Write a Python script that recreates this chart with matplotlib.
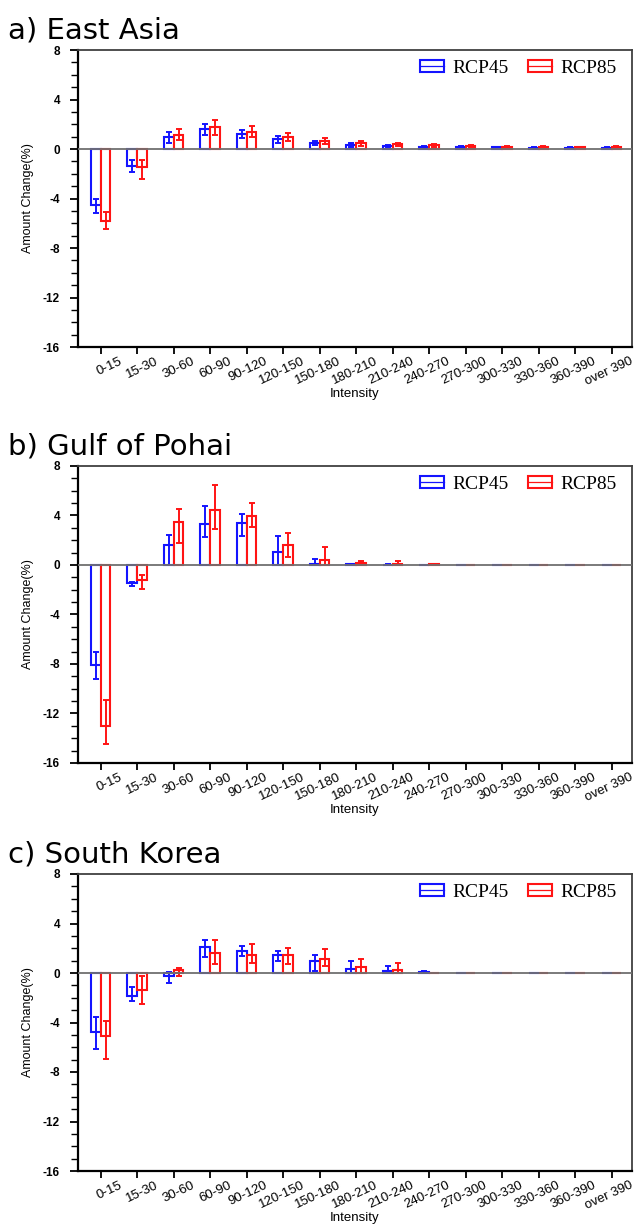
import numpy as np
import matplotlib
matplotlib.use("Agg")
import matplotlib.pyplot as plt
import matplotlib.transforms as mtrans
from matplotlib.patches import Patch
from matplotlib.lines import Line2D
from matplotlib.legend_handler import HandlerTuple

categories = ['0-15', '15-30', '30-60', '60-90', '90-120', '120-150', '150-180',
              '180-210', '210-240', '240-270', '270-300', '300-330', '330-360',
              '360-390', 'over 390']

# a) East Asia
ea45 = [-4.55, -1.35, 0.94, 1.59, 1.21, 0.81, 0.51, 0.33, 0.25, 0.19, 0.16, 0.13, 0.12, 0.10, 0.10]
ea45_lo = [-5.15, -1.89, 0.46, 1.13, 0.92, 0.51, 0.30, 0.19, 0.17, 0.12, 0.10, 0.08, 0.07, 0.06, 0.06]
ea45_hi = [-4.07, -0.89, 1.40, 2.00, 1.54, 1.05, 0.67, 0.46, 0.35, 0.26, 0.22, 0.18, 0.17, 0.14, 0.14]
ea85 = [-5.82, -1.48, 1.16, 1.75, 1.37, 0.94, 0.67, 0.46, 0.38, 0.30, 0.24, 0.19, 0.18, 0.13, 0.18]
ea85_lo = [-6.47, -2.43, 0.73, 1.13, 0.94, 0.62, 0.38, 0.24, 0.25, 0.18, 0.14, 0.11, 0.10, 0.07, 0.08]
ea85_hi = [-5.07, -0.89, 1.64, 2.35, 1.86, 1.32, 0.92, 0.65, 0.50, 0.40, 0.33, 0.27, 0.26, 0.19, 0.27]

# b) Gulf of Pohai
gp45 = [-8.09, -1.48, 1.59, 3.34, 3.40, 1.02, 0.10, 0.05, 0.02, 0.02, 0.01, 0.01, 0.01, 0.01, 0.01]
gp45_lo = [-9.25, -1.67, 0.00, 2.29, 2.37, 0.00, 0.00, 0.00, 0.00, 0.00, 0.00, 0.00, 0.00, 0.00, 0.00]
gp45_hi = [-7.06, -1.35, 2.43, 4.80, 4.10, 2.32, 0.50, 0.12, 0.05, 0.04, 0.02, 0.02, 0.02, 0.02, 0.02]
gp85 = [-13.02, -1.21, 3.50, 4.45, 3.99, 1.64, 0.38, 0.13, 0.12, 0.05, 0.01, 0.01, 0.01, 0.01, 0.01]
gp85_lo = [-14.50, -1.91, 1.80, 2.88, 3.10, 0.62, 0.00, 0.00, 0.00, 0.00, 0.00, 0.00, 0.00, 0.00, 0.00]
gp85_hi = [-10.90, -0.78, 4.53, 6.44, 4.99, 2.59, 1.48, 0.35, 0.35, 0.10, 0.02, 0.02, 0.02, 0.02, 0.02]

# c) South Korea
sk45 = [-4.77, -1.83, -0.27, 2.08, 1.81, 1.48, 1.00, 0.33, 0.19, 0.08, 0.01, 0.01, 0.01, 0.01, 0.01]
sk45_lo = [-6.15, -2.29, -0.81, 1.27, 1.35, 0.97, 0.19, 0.00, 0.00, 0.00, 0.00, 0.00, 0.00, 0.00, 0.00]
sk45_hi = [-3.56, -1.13, 0.05, 2.70, 2.21, 1.78, 1.48, 1.00, 0.54, 0.20, 0.02, 0.02, 0.02, 0.02, 0.02]
sk85 = [-5.07, -1.35, 0.22, 1.59, 1.43, 1.43, 1.13, 0.48, 0.27, 0.01, 0.01, 0.01, 0.01, 0.01, 0.01]
sk85_lo = [-6.95, -2.48, -0.22, 0.73, 0.81, 0.75, 0.59, 0.00, 0.00, 0.00, 0.00, 0.00, 0.00, 0.00, 0.00]
sk85_hi = [-3.91, -0.22, 0.43, 2.70, 2.37, 2.00, 1.94, 1.13, 0.81, 0.02, 0.02, 0.02, 0.02, 0.02, 0.02]

titles = ['a) East Asia', 'b) Gulf of Pohai', 'c) South Korea']
series_labels = ['RCP45', 'RCP85']
yticks = [8, 4, 0, -4, -8, -12, -16]

panels = [
    (ea45, ea45_lo, ea45_hi, ea85, ea85_lo, ea85_hi),
    (gp45, gp45_lo, gp45_hi, gp85, gp85_lo, gp85_hi),
    (sk45, sk45_lo, sk45_hi, sk85, sk85_lo, sk85_hi),
]

W, H = 644, 1226
fig = plt.figure(figsize=(W / 100, H / 100), dpi=100)

boxes = [(50, 347), (466, 763), (874, 1171)]
title_y = [38, 455, 862]
left_px, right_px = 78, 632
colors = ['#1414ff', '#ff1414']
bw = 0.27

for (top, bot), ty, title, data in zip(boxes, title_y, titles, panels):
    ax = fig.add_axes([left_px / W, 1 - bot / H, (right_px - left_px) / W, (bot - top) / H])
    x = np.arange(len(categories))
    v45, lo45, hi45, v85, lo85, hi85 = [np.array(d) for d in data]
    for off, v, lo, hi, c in [(-bw / 2, v45, lo45, hi45, colors[0]),
                              (bw / 2, v85, lo85, hi85, colors[1])]:
        ax.bar(x + off, v, width=bw, facecolor='white', edgecolor=c, linewidth=1.5, zorder=3)
        ax.errorbar(x + off, v, yerr=[v - lo, hi - v], fmt='none', ecolor=c,
                    elinewidth=1.4, capsize=2.2, capthick=1.4, zorder=4)
    ax.axhline(0, color='#707070', linewidth=1.3, zorder=5)
    ax.set_xlim(-0.62, 14.56)
    ax.set_ylim(-16, 8)
    ax.set_yticks(yticks)
    ax.set_yticks(np.arange(-16, 9, 1), minor=True)
    ax.set_yticklabels([str(t) for t in yticks], fontsize=8.5, family='Liberation Sans',
                       fontweight='bold')
    ax.set_xticks(x)
    ax.set_xticklabels(categories, rotation=25, ha='right', rotation_mode='anchor',
                       fontsize=9.5, family='Liberation Sans')
    ax.tick_params(axis='y', which='major', direction='out', length=6, width=1.3, pad=7)
    ax.tick_params(axis='y', which='minor', direction='out', length=5, width=1.0)
    ax.tick_params(axis='x', which='major', direction='out', length=5, width=1.3, pad=1)
    for lbl in ax.get_xticklabels():
        lbl.set_transform(lbl.get_transform() + mtrans.ScaledTranslation(0.18, 0, fig.dpi_scale_trans))
    ax.set_xlabel('Intensity', fontsize=9.5, family='Liberation Sans')
    ax.xaxis.set_label_coords(0.5, -0.157)
    ax.xaxis.label.set_va('center')
    ax.set_ylabel('Amount Change(%)', fontsize=9, family='Liberation Sans', labelpad=6)
    for s in ['left', 'bottom']:
        ax.spines[s].set_linewidth(1.6)
        ax.spines[s].set_color('black')
    for s in ['top', 'right']:
        ax.spines[s].set_linewidth(1.3)
        ax.spines[s].set_color('#404040')

    handles = []
    for c in colors:
        handles.append((Patch(facecolor='white', edgecolor=c, linewidth=1.5),
                        Line2D([0], [0], color=c, linewidth=0.9)))
    ax.legend(handles, series_labels, loc='upper right', ncol=2, frameon=False,
              prop={'family': 'Liberation Serif', 'size': 14},
              handler_map={tuple: HandlerTuple(ndivide=1, pad=0)},
              handlelength=1.25, handleheight=0.55, handletextpad=0.4, columnspacing=1.0,
              borderpad=0.2, borderaxespad=0.3, bbox_to_anchor=(0.989, 1.0))

    fig.text(8 / W, 1 - ty / H, title, fontsize=21, family='DejaVu Sans', ha='left', va='baseline')

fig.savefig('out.png', dpi=100)
